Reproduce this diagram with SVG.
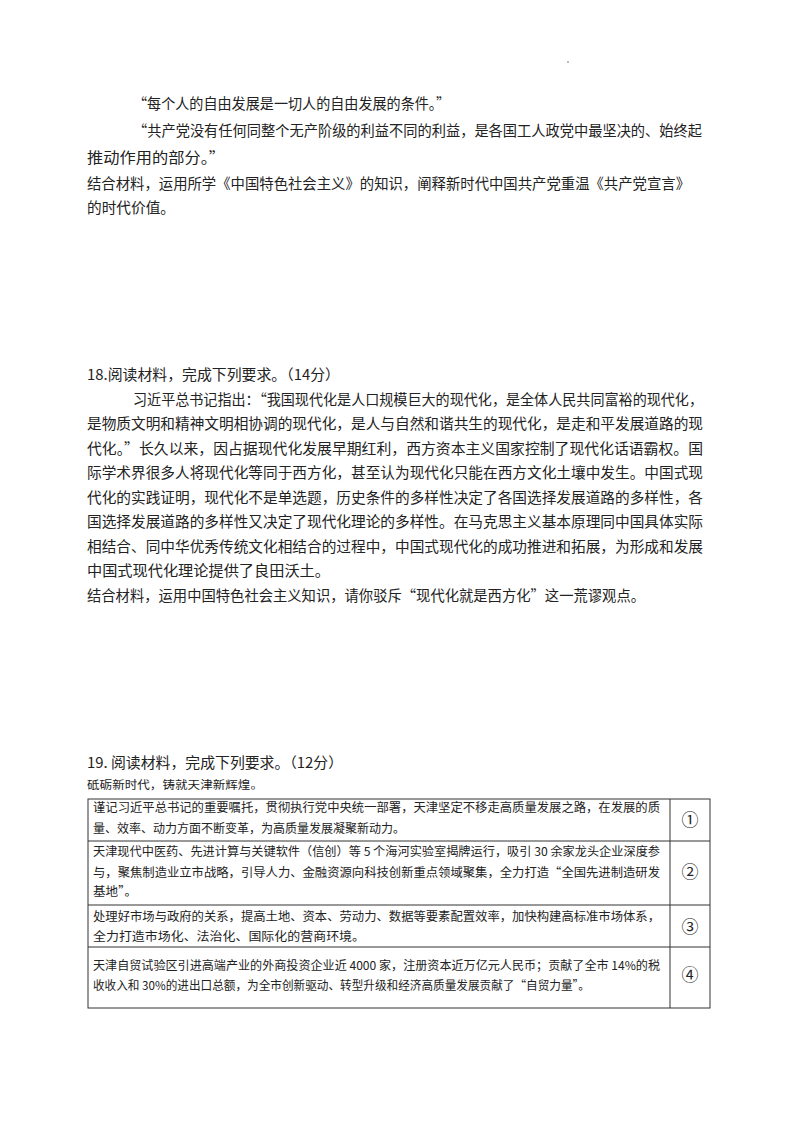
<svg xmlns="http://www.w3.org/2000/svg" width="800" height="1132" viewBox="0 0 800 1132">
<style>
text{font-family:"Noto Sans CJK SC","Liberation Serif",serif;fill:#222}
.m{font-size:14.5px}
.s{font-size:11px}
.t{font-size:12px}
.c{font-family:"Noto Sans CJK SC","DejaVu Sans",sans-serif;font-size:17px;text-anchor:middle}
line{stroke:#333;stroke-width:1}
</style>
<rect width="800" height="1132" fill="#fff"/>
<circle cx="568" cy="62" r="0.8" fill="#666"/>
<g id="q17">
<text class="m" x="133" y="109" textLength="317" lengthAdjust="spacingAndGlyphs">“每个人的自由发展是一切人的自由发展的条件。”</text>
<text class="m" x="133" y="136" textLength="569" lengthAdjust="spacingAndGlyphs">“共产党没有任何同整个无产阶级的利益不同的利益，是各国工人政党中最坚决的、始终起</text>
<text class="m" x="87" y="163" textLength="138" lengthAdjust="spacingAndGlyphs">推动作用的部分。”</text>
<text class="m" x="87" y="189" textLength="603" lengthAdjust="spacingAndGlyphs">结合材料，运用所学《中国特色社会主义》的知识，阐释新时代中国共产党重温《共产党宣言》</text>
<text class="m" x="87" y="213" textLength="88" lengthAdjust="spacingAndGlyphs">的时代价值。</text>
</g>
<g id="q18">
<text class="m" x="87" y="380" textLength="253" lengthAdjust="spacingAndGlyphs">18.阅读材料，完成下列要求。（14分）</text>
<text class="m" x="133" y="405" textLength="570" lengthAdjust="spacingAndGlyphs">习近平总书记指出：“我国现代化是人口规模巨大的现代化，是全体人民共同富裕的现代化，</text>
<text class="m" x="87" y="429" textLength="616" lengthAdjust="spacingAndGlyphs">是物质文明和精神文明相协调的现代化，是人与自然和谐共生的现代化，是走和平发展道路的现</text>
<text class="m" x="87" y="454" textLength="616" lengthAdjust="spacingAndGlyphs">代化。”长久以来，因占据现代化发展早期红利，西方资本主义国家控制了现代化话语霸权。国</text>
<text class="m" x="87" y="478" textLength="616" lengthAdjust="spacingAndGlyphs">际学术界很多人将现代化等同于西方化，甚至认为现代化只能在西方文化土壤中发生。中国式现</text>
<text class="m" x="87" y="503" textLength="616" lengthAdjust="spacingAndGlyphs">代化的实践证明，现代化不是单选题，历史条件的多样性决定了各国选择发展道路的多样性，各</text>
<text class="m" x="87" y="527" textLength="616" lengthAdjust="spacingAndGlyphs">国选择发展道路的多样性又决定了现代化理论的多样性。在马克思主义基本原理同中国具体实际</text>
<text class="m" x="87" y="552" textLength="616" lengthAdjust="spacingAndGlyphs">相结合、同中华优秀传统文化相结合的过程中，中国式现代化的成功推进和拓展，为形成和发展</text>
<text class="m" x="87" y="576" textLength="243" lengthAdjust="spacingAndGlyphs">中国式现代化理论提供了良田沃土。</text>
<text class="m" x="87" y="601" textLength="558" lengthAdjust="spacingAndGlyphs">结合材料，运用中国特色社会主义知识，请你驳斥“现代化就是西方化”这一荒谬观点。</text>
</g>
<g id="q19">
<text class="m" x="87" y="768" textLength="256" lengthAdjust="spacingAndGlyphs">19. 阅读材料，完成下列要求。（12分）</text>
<text class="s" x="87" y="789" textLength="176" lengthAdjust="spacingAndGlyphs">砥砺新时代，铸就天津新辉煌。</text>
</g>
<g id="table">
<rect x="88" y="799" width="622" height="209" fill="none" stroke="#333" stroke-width="1"/>
<line x1="670" y1="799" x2="670" y2="1008"/>
<line x1="88" y1="841" x2="710" y2="841"/>
<line x1="88" y1="905" x2="710" y2="905"/>
<line x1="88" y1="947" x2="710" y2="947"/>
</g>
<g id="row1">
<text class="t" x="93" y="812" textLength="567" lengthAdjust="spacingAndGlyphs">谨记习近平总书记的重要嘱托，贯彻执行党中央统一部署，天津坚定不移走高质量发展之路，在发展的质</text>
<text class="t" x="93" y="833" textLength="312" lengthAdjust="spacingAndGlyphs">量、效率、动力方面不断变革，为高质量发展凝聚新动力。</text>
<text class="c" x="690" y="826">①</text>
</g>
<g id="row2">
<text class="t" x="93" y="856" textLength="567" lengthAdjust="spacingAndGlyphs">天津现代中医药、先进计算与关键软件（信创）等 5 个海河实验室揭牌运行，吸引 30 余家龙头企业深度参</text>
<text class="t" x="93" y="877" textLength="567" lengthAdjust="spacingAndGlyphs">与，聚焦制造业立市战略，引导人力、金融资源向科技创新重点领域聚集，全力打造“全国先进制造研发</text>
<text class="t" x="93" y="896" textLength="44" lengthAdjust="spacingAndGlyphs">基地”。</text>
<text class="c" x="690" y="878">②</text>
</g>
<g id="row3">
<text class="t" x="93" y="921" textLength="567" lengthAdjust="spacingAndGlyphs">处理好市场与政府的关系，提高土地、资本、劳动力、数据等要素配置效率，加快构建高标准市场体系，</text>
<text class="t" x="93" y="941" textLength="272" lengthAdjust="spacingAndGlyphs">全力打造市场化、法治化、国际化的营商环境。</text>
<text class="c" x="690" y="933">③</text>
</g>
<g id="row4">
<text class="t" x="93" y="970" textLength="567" lengthAdjust="spacingAndGlyphs">天津自贸试验区引进高端产业的外商投资企业近 4000 家，注册资本近万亿元人民币；贡献了全市 14%的税</text>
<text class="t" x="93" y="990" textLength="497" lengthAdjust="spacingAndGlyphs">收收入和 30%的进出口总额，为全市创新驱动、转型升级和经济高质量发展贡献了“自贸力量”。</text>
<text class="c" x="690" y="981">④</text>
</g>
</svg>
